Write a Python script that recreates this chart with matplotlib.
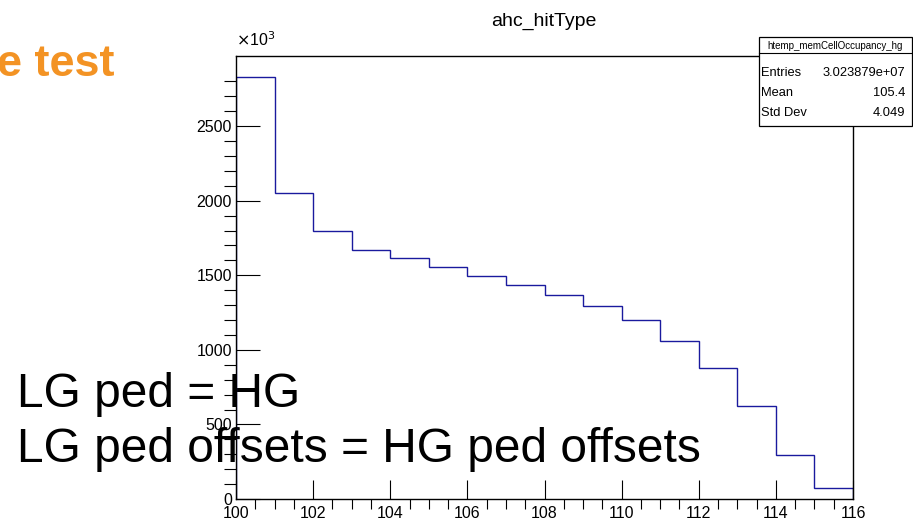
import numpy as np
import matplotlib.pyplot as plt
from matplotlib.patches import Rectangle
from matplotlib.lines import Line2D

plt.rcParams['font.family'] = ['Liberation Sans', 'DejaVu Sans']

# bin contents (in units of 10^3), bins of width 1 from 100 to 116
bin_lo = list(range(100, 117))
counts = [2831, 2050, 1795, 1672, 1616, 1553, 1492, 1432,
          1365, 1291, 1199, 1060, 881, 626, 297, 73]

hist_title = 'ahc_hitType'
stat_name = 'htemp_memCellOccupancy_hg'
stat_labels = ['Entries', 'Mean', 'Std Dev']
stat_values = ['3.023879e+07', '105.4', '4.049']

W, H = 913, 524
fig = plt.figure(figsize=(W / 100, H / 100), dpi=100)

def fx(px):
    return px / W

def fy(py):
    return 1 - py / H

ax = fig.add_axes([fx(236), fy(499), fx(853) - fx(236), fy(55.7) - fy(499)])
ax.patch.set_visible(False)
ax.stairs(counts, bin_lo, color='#1a1a9e', lw=1.0, baseline=0)
ax.set_xlim(100, 116)
ax.set_ylim(0, max(counts) * 1.05)

ax.set_xticks(range(100, 117, 2))
ax.set_xticks(np.arange(100, 116.01, 0.5), minor=True)
ax.set_yticks(range(0, 3000, 500))
ax.set_yticks(range(0, 2900, 100), minor=True)
ax.tick_params(direction='in', labelsize=11.5, width=0.8, colors='black')
ax.tick_params(axis='y', which='major', length=17, pad=3)
ax.tick_params(axis='y', which='minor', length=9, width=0.8)
ax.tick_params(axis='x', which='major', length=14, pad=5)
ax.tick_params(axis='x', which='minor', length=7, width=0.8)
for s in ax.spines.values():
    s.set_linewidth(1.0)

fig.text(fx(236), fy(46), r'$\times$10$^3$', fontsize=11.5, ha='left', va='baseline')
fig.text(fx(544), fy(26), hist_title, fontsize=14, ha='center', va='baseline')

# stats box
bx0, bx1, by0, by1 = 759, 912, 37, 126
fig.add_artist(Rectangle((fx(bx0), fy(by1)), fx(bx1) - fx(bx0), fy(by0) - fy(by1),
                         transform=fig.transFigure, fc='white', ec='black', lw=0.9, zorder=5))
fig.add_artist(Line2D([fx(bx0), fx(bx1)], [fy(52.7), fy(52.7)],
                      transform=fig.transFigure, color='black', lw=0.8, zorder=6))
fig.text(fx(835.5), fy(49), stat_name, fontsize=7, ha='center', va='baseline', zorder=7)
for i, (lab, val) in enumerate(zip(stat_labels, stat_values)):
    yb = 75.5 + 20 * i
    fig.text(fx(761), fy(yb), lab, fontsize=9.3, ha='left', va='baseline', zorder=7)
    fig.text(fx(905), fy(yb), val, fontsize=9.3, ha='right', va='baseline', zorder=7)

# slide text, drawn beneath the plot
fig.text(fx(114), fy(75.5), 'e test', fontsize=32.5, fontweight='bold', color='#f39324',
         ha='right', va='baseline', zorder=-1)
fig.text(fx(17), fy(407), 'LG ped = HG', fontsize=34.5, ha='left', va='baseline', zorder=-1)
fig.text(fx(17), fy(462), 'LG ped offsets = HG ped offsets', fontsize=34.5,
         ha='left', va='baseline', zorder=-1)

fig.savefig('out.png', dpi=100)
